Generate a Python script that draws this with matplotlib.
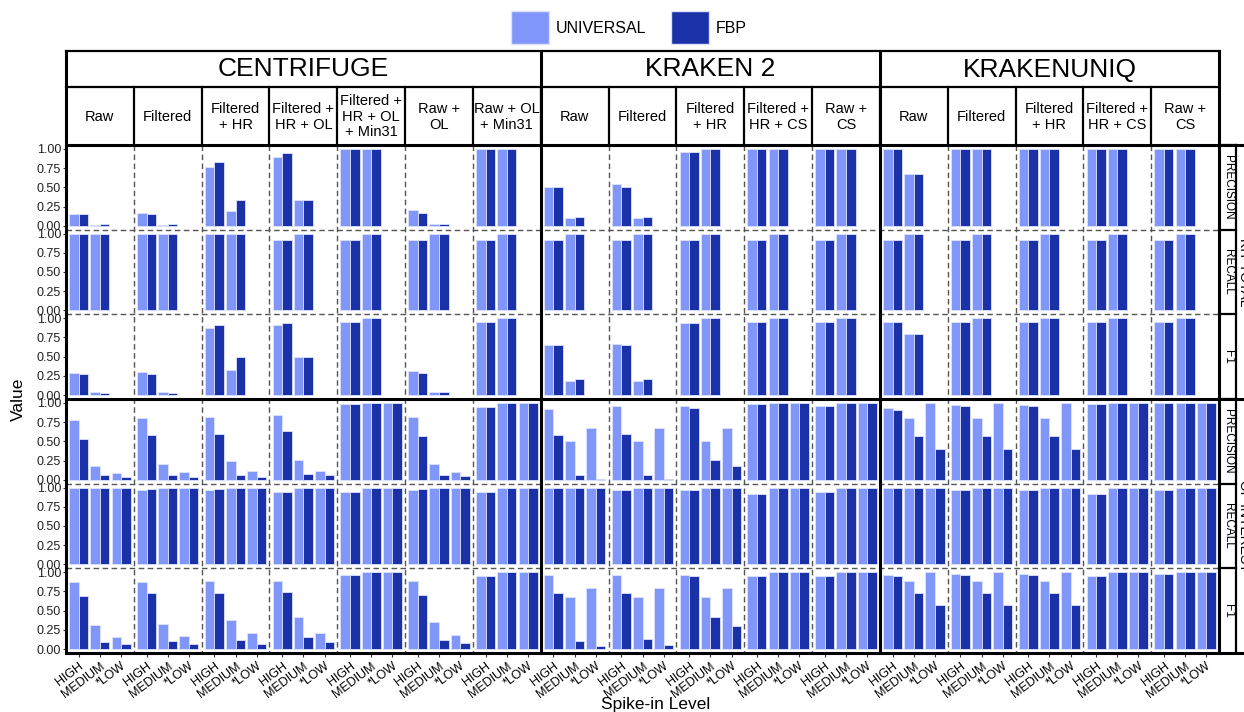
import numpy as np
import matplotlib.pyplot as plt
from matplotlib.lines import Line2D
from matplotlib.patches import Patch

plt.rcParams['font.family'] = ['Liberation Sans', 'DejaVu Sans']

# Categories
levels = ["HIGH", "MEDIUM", "*LOW"]
tools = ["CENTRIFUGE", "KRAKEN 2", "KRAKENUNIQ"]
tool_ncols = [7, 5, 5]
pipelines = ["Raw", "Filtered", "Filtered\n+ HR", "Filtered +\nHR + OL",
             "Filtered +\nHR + OL\n+ Min31", "Raw +\nOL", "Raw + OL\n+ Min31",
             "Raw", "Filtered", "Filtered\n+ HR", "Filtered +\nHR + CS", "Raw +\nCS",
             "Raw", "Filtered", "Filtered\n+ HR", "Filtered +\nHR + CS", "Raw +\nCS"]
metrics = ["PRECISION", "RECALL", "F1"]
groups = ["KIT TOTAL", "OF INTEREST"]

# Upper block: HIGH and MEDIUM only, one [HIGH, MEDIUM] pair per pipeline
top_precision_univ = [[0.16, 0.015], [0.17, 0.015], [0.77, 0.19], [0.90, 0.34], [1.0, 1.0], [0.20, 0.02], [1.0, 1.0],
                      [0.51, 0.10], [0.54, 0.10], [0.956, 1.0], [1.0, 1.0], [1.0, 1.0],
                      [1.0, 0.67], [1.0, 1.0], [1.0, 1.0], [1.0, 1.0], [1.0, 1.0]]
top_precision_fbp = [[0.16, 0.02], [0.16, 0.02], [0.83, 0.34], [0.95, 0.34], [1.0, 1.0], [0.17, 0.02], [1.0, 1.0],
                     [0.51, 0.11], [0.51, 0.11], [0.956, 1.0], [1.0, 1.0], [1.0, 1.0],
                     [1.0, 0.67], [1.0, 1.0], [1.0, 1.0], [1.0, 1.0], [1.0, 1.0]]
top_recall_univ = [[1.0, 1.0], [1.0, 1.0], [1.0, 1.0], [0.917, 1.0], [0.917, 1.0], [0.917, 1.0], [0.917, 1.0],
                   [0.917, 1.0], [0.917, 1.0], [0.917, 1.0], [0.917, 1.0], [0.917, 1.0],
                   [0.917, 1.0], [0.917, 1.0], [0.917, 1.0], [0.917, 1.0], [0.917, 1.0]]
top_recall_fbp = [[1.0, 1.0], [1.0, 1.0], [1.0, 1.0], [0.917, 1.0], [0.917, 1.0], [0.917, 1.0], [0.917, 1.0],
                  [0.917, 1.0], [0.917, 1.0], [0.917, 1.0], [0.917, 1.0], [0.917, 1.0],
                  [0.917, 1.0], [0.917, 1.0], [0.917, 1.0], [0.917, 1.0], [0.917, 1.0]]
top_f1_univ = [[0.284, 0.035], [0.30, 0.035], [0.878, 0.33], [0.913, 0.50], [0.956, 1.0], [0.32, 0.04], [0.956, 1.0],
               [0.65, 0.19], [0.668, 0.19], [0.934, 1.0], [0.956, 1.0], [0.956, 1.0],
               [0.956, 0.80], [0.956, 1.0], [0.956, 1.0], [0.956, 1.0], [0.956, 1.0]]
top_f1_fbp = [[0.275, 0.022], [0.275, 0.022], [0.917, 0.50], [0.934, 0.50], [0.956, 1.0], [0.29, 0.035], [0.956, 1.0],
              [0.65, 0.205], [0.65, 0.205], [0.934, 1.0], [0.956, 1.0], [0.956, 1.0],
              [0.956, 0.80], [0.956, 1.0], [0.956, 1.0], [0.956, 1.0], [0.956, 1.0]]

# Lower block: [HIGH, MEDIUM, *LOW] per pipeline
bot_precision_univ = [[0.78, 0.18, 0.09], [0.80, 0.20, 0.105], [0.81, 0.24, 0.12], [0.84, 0.26, 0.12],
                      [0.987, 1.0, 1.0], [0.81, 0.21, 0.10], [0.94, 1.0, 1.0],
                      [0.92, 0.50, 0.67], [0.965, 0.50, 0.67], [0.965, 0.50, 0.67], [0.987, 1.0, 1.0], [0.965, 1.0, 1.0],
                      [0.93, 0.80, 1.0], [0.978, 0.80, 1.0], [0.978, 0.80, 1.0], [0.987, 1.0, 1.0], [0.995, 1.0, 1.0]]
bot_precision_fbp = [[0.53, 0.057, 0.035], [0.585, 0.057, 0.035], [0.60, 0.066, 0.035], [0.63, 0.08, 0.057],
                     [0.987, 1.0, 1.0], [0.57, 0.06, 0.045], [0.94, 1.0, 1.0],
                     [0.585, 0.066, 0.015], [0.60, 0.066, 0.015], [0.93, 0.26, 0.18], [0.987, 1.0, 1.0], [0.965, 1.0, 1.0],
                     [0.913, 0.572, 0.406], [0.965, 0.572, 0.406], [0.965, 0.572, 0.406], [0.987, 1.0, 1.0], [0.995, 1.0, 1.0]]
bot_recall_univ = [[1.0, 1.0, 1.0], [0.97, 1.0, 1.0], [0.97, 1.0, 1.0], [0.948, 1.0, 1.0],
                   [0.948, 1.0, 1.0], [0.97, 1.0, 1.0], [0.948, 1.0, 1.0],
                   [1.0, 1.0, 1.0], [0.97, 1.0, 1.0], [0.97, 1.0, 1.0], [0.913, 1.0, 1.0], [0.948, 1.0, 1.0],
                   [1.0, 1.0, 1.0], [0.97, 1.0, 1.0], [0.97, 1.0, 1.0], [0.913, 1.0, 1.0], [0.97, 1.0, 1.0]]
bot_recall_fbp = [[1.0, 1.0, 1.0], [0.983, 1.0, 1.0], [0.983, 1.0, 1.0], [0.948, 1.0, 1.0],
                  [0.948, 1.0, 1.0], [0.983, 1.0, 1.0], [0.948, 1.0, 1.0],
                  [1.0, 1.0, 1.0], [0.97, 1.0, 1.0], [0.97, 1.0, 1.0], [0.913, 1.0, 1.0], [0.948, 1.0, 1.0],
                  [1.0, 1.0, 1.0], [0.97, 1.0, 1.0], [0.97, 1.0, 1.0], [0.913, 1.0, 1.0], [0.97, 1.0, 1.0]]
bot_f1_univ = [[0.873, 0.31, 0.157], [0.873, 0.323, 0.17], [0.886, 0.38, 0.205], [0.886, 0.42, 0.214],
               [0.96, 1.0, 1.0], [0.88, 0.35, 0.18], [0.945, 1.0, 1.0],
               [0.96, 0.672, 0.80], [0.96, 0.672, 0.80], [0.96, 0.672, 0.80], [0.948, 1.0, 1.0], [0.948, 1.0, 1.0],
               [0.96, 0.886, 1.0], [0.97, 0.886, 1.0], [0.97, 0.886, 1.0], [0.952, 1.0, 1.0], [0.978, 1.0, 1.0]]
bot_f1_fbp = [[0.69, 0.096, 0.061], [0.725, 0.105, 0.061], [0.734, 0.122, 0.061], [0.747, 0.153, 0.096],
              [0.96, 1.0, 1.0], [0.71, 0.12, 0.085], [0.945, 1.0, 1.0],
              [0.734, 0.105, 0.044], [0.734, 0.131, 0.052], [0.948, 0.42, 0.30], [0.948, 1.0, 1.0], [0.948, 1.0, 1.0],
              [0.952, 0.725, 0.576], [0.96, 0.725, 0.576], [0.96, 0.725, 0.576], [0.952, 1.0, 1.0], [0.978, 1.0, 1.0]]

rows = [(top_precision_univ, top_precision_fbp), (top_recall_univ, top_recall_fbp), (top_f1_univ, top_f1_fbp),
        (bot_precision_univ, bot_precision_fbp), (bot_recall_univ, bot_recall_fbp), (bot_f1_univ, bot_f1_fbp)]

LIGHT = '#8196F9'
DARK = '#1A31A8'
EDGE = '#dde3ff'

W, H = 1244, 712
fig = plt.figure(figsize=(W / 100, H / 100), dpi=100)

# grid geometry in pixels
left, right = 66, 1219
top, bottom = 145, 653
ncol = sum(tool_ncols)
cw = (right - left) / ncol
rh = (bottom - top) / len(rows)
head_top, head_mid = 50.5, 86.5
strip_r = 1236


def frac(x0, y0, x1, y1):
    return [x0 / W, 1 - y1 / H, (x1 - x0) / W, (y1 - y0) / H]


for r, (univ, fbp) in enumerate(rows):
    for c in range(ncol):
        ax = fig.add_axes(frac(left + c * cw, top + r * rh, left + (c + 1) * cw, top + (r + 1) * rh))
        u = np.array(univ[c])
        f = np.array(fbp[c])
        x = np.arange(1, len(u) + 1)
        ax.bar(x - 0.225, u, 0.45, color=LIGHT, edgecolor=EDGE, linewidth=0.6)
        ax.bar(x + 0.225, f, 0.45, color=DARK, edgecolor=EDGE, linewidth=0.6)
        ax.set_xlim(0.4, 3.6)
        ax.set_ylim(-0.05, 1.05)
        ax.patch.set_visible(False)
        for s in ax.spines.values():
            s.set_visible(False)
        ax.set_xticks([1, 2, 3])
        if r == len(rows) - 1:
            ax.set_xticklabels(levels, rotation=37, ha='right', va='top',
                               rotation_mode='anchor', fontsize=9)
            ax.tick_params(axis='x', length=3, width=0.8, pad=2, color='#333333')
        else:
            ax.set_xticklabels([])
            ax.tick_params(axis='x', length=0)
        if c == 0:
            ax.set_yticks([0, 0.25, 0.5, 0.75, 1.0])
            ax.set_yticklabels(['0.00', '0.25', '0.50', '0.75', '1.00'], fontsize=9, color='#222222')
            ax.tick_params(axis='y', length=2.5, width=0.8, pad=1, color='#333333')
        else:
            ax.set_yticks([])

# overlay in pixel coordinates for strips, headers and frame lines
ov = fig.add_axes([0, 0, 1, 1], zorder=10)
ov.set_xlim(0, W)
ov.set_ylim(H, 0)
ov.axis('off')


def line(xs, ys, lw, **kw):
    ov.add_line(Line2D(xs, ys, color=kw.pop('color', 'black'), linewidth=lw,
                       solid_capstyle='projecting', **kw))


# dashed panel separators
tool_edges = np.cumsum([0] + tool_ncols)
for c in range(1, ncol):
    if c not in tool_edges:
        xc = left + c * cw
        line([xc, xc], [top, bottom], 1.0, color='#555555', linestyle=(0, (4, 2.5)))
for r in (1, 2, 4, 5):
    yr = top + r * rh
    line([left, right], [yr, yr], 1.0, color='#555555', linestyle=(0, (4, 2.5)))

# header cells
line([left, right], [head_top, head_top], 1.6)
line([left, right], [head_mid, head_mid], 1.6)
for c in range(1, ncol):
    xc = left + c * cw
    line([xc, xc], [head_mid, top], 1.6)
for i, name in enumerate(tools):
    x0 = left + tool_edges[i] * cw
    x1 = left + tool_edges[i + 1] * cw
    ov.text((x0 + x1) / 2, (head_top + head_mid) / 2 + 1, name, ha='center', va='center', fontsize=19)
for c, name in enumerate(pipelines):
    ov.text(left + (c + 0.5) * cw, (head_mid + top) / 2 + 1, name, ha='center', va='center',
            fontsize=10.5, linespacing=1.15)

# thick frame
for xe in tool_edges:
    xc = left + xe * cw
    line([xc, xc], [head_top, bottom], 2.2)
for yb in (top, top + 3 * rh, bottom):
    line([left, W + 5], [yb, yb], 2.2)

# metric and group strips
line([strip_r, strip_r], [top, bottom], 1.6)
for r in range(len(rows)):
    yr = top + r * rh
    line([right, strip_r], [yr, yr], 1.6)
    ov.text((right + strip_r) / 2 + 0.5, yr + rh / 2, metrics[r % 3], rotation=-90,
            ha='center', va='center', fontsize=8.5)
for g, name in enumerate(groups):
    ov.text(strip_r + 8.5, top + (g * 3 + 1.5) * rh, name, rotation=-90,
            ha='center', va='center', fontsize=10, clip_on=False)

# axis titles
ov.text(18, (top + bottom) / 2, 'Value', rotation=90, ha='center', va='center', fontsize=12.5)
ov.text(656, 697, 'Spike-in Level', ha='center', va='top', fontsize=12.5)

# legend
handles = [Patch(facecolor=LIGHT, edgecolor=EDGE, label='UNIVERSAL'),
           Patch(facecolor=DARK, edgecolor=EDGE, label='FBP')]
fig.legend(handles=handles, loc='center', bbox_to_anchor=(0.5056, 0.9607), ncol=2, frameon=False,
           fontsize=11.5, handlelength=2.4, handleheight=2.8, handletextpad=0.45, columnspacing=1.5)

fig.savefig('out.png', dpi=100)
